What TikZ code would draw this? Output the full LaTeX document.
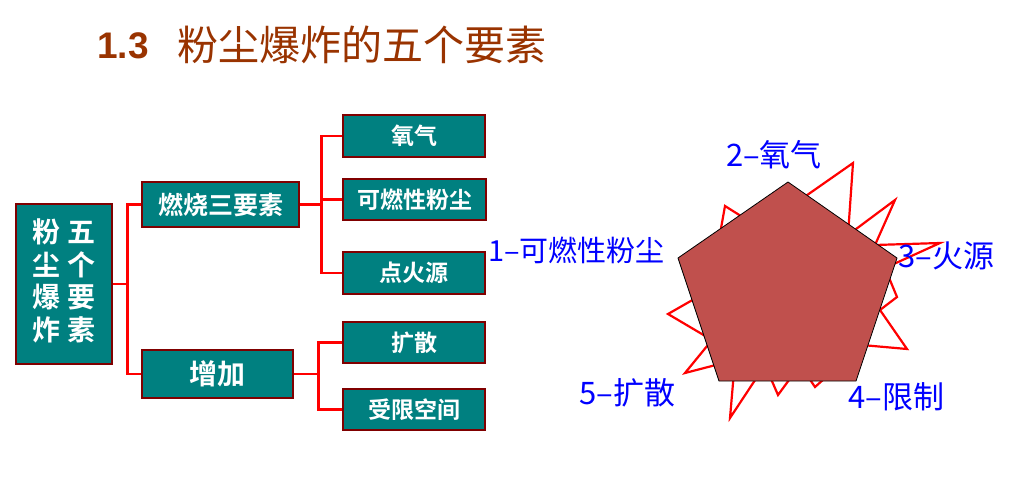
\documentclass[tikz,border=0pt]{standalone}
\usepackage{fontspec}
\setmainfont{Liberation Serif}
\newfontfamily\song{Noto Sans CJK SC}
\newfontfamily\songb{Noto Sans CJK SC Bold}
\newfontfamily\arialf{Liberation Sans}
\definecolor{boxfill}{HTML}{008080}
\definecolor{boxline}{HTML}{800000}
\definecolor{connred}{HTML}{FF0000}
\definecolor{pentfill}{HTML}{C0504D}
\definecolor{lblblue}{HTML}{0000FF}
\definecolor{titlebrown}{HTML}{993300}
\begin{document}
\begin{tikzpicture}[x=1pt,y=-1pt,
  box/.style={draw=boxline, line width=2.6pt, fill=boxfill, text=white, inner sep=0pt, font=\songb\fontsize{23}{23}\selectfont},
  conn/.style={draw=connred, line width=2.8pt},
  lbl/.style={text=lblblue, inner sep=0pt, font=\song\fontsize{31}{31}\selectfont},
  starline/.style={draw=connred, line width=2.2pt},
  pent/.style={draw=black, line width=0.8pt, fill=pentfill}]
\useasboundingbox (0,0) rectangle (1029,480);

% title
\node[anchor=west, inner sep=0pt, text=titlebrown, font=\arialf\bfseries\fontsize{37}{37}\selectfont] (tnum) at (97,46) {1.3};
\node[anchor=west, inner sep=0pt, text=titlebrown, font=\song\fontsize{41}{41}\selectfont] (ttext) at (177,45) {粉尘爆炸的五个要素};

% tree boxes
\node[box, minimum width=96, minimum height=160] (root) at (64,284)
  {\fontsize{28}{30}\selectfont\begin{tabular}{@{}c@{\hspace{7pt}}c@{}}粉&五\\尘&个\\爆&要\\炸&素\end{tabular}};
\node[box, minimum width=157, minimum height=45, font=\songb\fontsize{25}{25}\selectfont] (ranshao) at (220.5,204.5) {燃烧三要素};
\node[box, minimum width=151, minimum height=48, font=\songb\fontsize{28}{28}\selectfont] (zengjia) at (217.5,374) {增加};
\node[box, minimum width=142, minimum height=42] (yangqi) at (414,136) {氧气};
\node[box, minimum width=143, minimum height=41] (kerang) at (414.5,199.5) {可燃性粉尘};
\node[box, minimum width=142, minimum height=42] (dianhuo) at (414,273) {点火源};
\node[box, minimum width=142, minimum height=41] (kuosan) at (414,342.5) {扩散};
\node[box, minimum width=142, minimum height=41] (shouxian) at (414,409.5) {受限空间};

% connectors
\draw[conn] (root.east) -- ++(14,0) coordinate (j1) |- (ranshao.west);
\draw[conn] (j1) |- (zengjia.west);
\draw[conn] (ranshao.east) -- ++(21,0) coordinate (j2) |- (yangqi.west);
\draw[conn] (j2) |- (kerang.west);
\draw[conn] (j2) |- (dianhuo.west);
\draw[conn] (zengjia.east) -- ++(24,0) coordinate (j3) |- (kuosan.west);
\draw[conn] (j3) |- (shouxian.west);

% explosion star
\draw[starline] (725,206) -- (760,228) -- (853,163) -- (848,235) -- (895,200) -- (875,245)
  -- (940,243) -- (885,268) -- (897,297) -- (880,310) -- (907,349) -- (862,345)
  -- (815,387) -- (800,365) -- (778,395) -- (765,365) -- (730,418) -- (735,360)
  -- (685,373) -- (712,340) -- (668,314) -- (710,290) -- cycle;

% pentagon
\draw[pent] (788,182) -- (897,258) -- (856,381) -- (719,381) -- (678,258) -- cycle;

% labels
\node[lbl, anchor=east, font=\song\fontsize{29}{29}\selectfont] (l1) at (665,250) {1–可燃性粉尘};
\node[lbl] (l2) at (774,155) {2–氧气};
\node[lbl, anchor=west] (l3) at (898,256) {3–火源};
\node[lbl, anchor=west] (l4) at (848,397) {4–限制};
\node[lbl, anchor=west] (l5) at (579,393) {5–扩散};
\end{tikzpicture}
\end{document}
